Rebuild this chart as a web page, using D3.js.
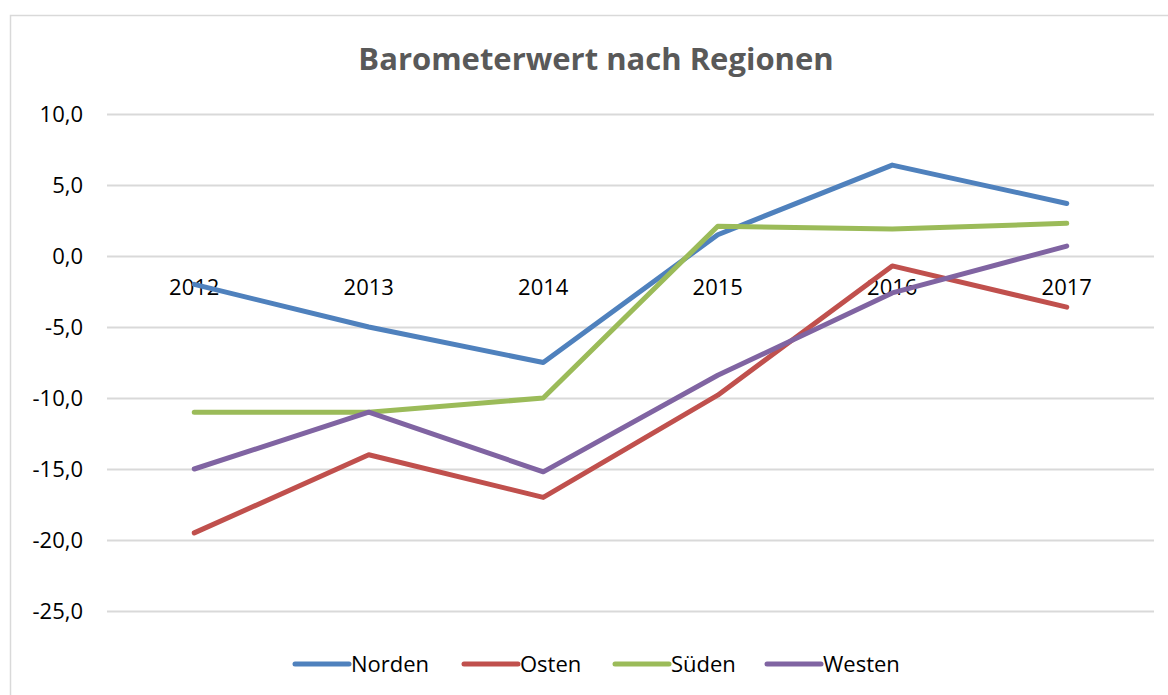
<!DOCTYPE html>
<html>
<head>
<meta charset="utf-8">
<script src="https://cdn.jsdelivr.net/npm/d3@7"></script>
<style>
  body { margin: 0; background: #fff; }
  text { font-family: "Open Sans", sans-serif; }
</style>
</head>
<body>
<div id="chart"></div>
<script>
var years   = ["2012", "2013", "2014", "2015", "2016", "2017"];
var norden  = [-2.0, -5.0, -7.5, 1.5, 6.4, 3.7];
var osten   = [-19.5, -14.0, -17.0, -9.8, -0.7, -3.6];
var sueden  = [-11.0, -11.0, -10.0, 2.1, 1.9, 2.3];
var westen  = [-15.0, -11.0, -15.2, -8.4, -2.6, 0.7];
var yTicks  = [10, 5, 0, -5, -10, -15, -20, -25];
var seriesNames = ["Norden", "Osten", "Süden", "Westen"];
var colors  = ["#4F81BD", "#C0504D", "#9BBB59", "#8064A2"];

var series = [norden, osten, sueden, westen].map(function(v, i) {
  return {name: seriesNames[i], color: colors[i], values: v};
});

var width = 1168, height = 695;
var margin = {top: 114, right: 14, bottom: 84, left: 107};

var svg = d3.select("#chart").append("svg")
  .attr("width", width)
  .attr("height", height);

// chart border
svg.append("rect")
  .attr("x", 10.5).attr("y", 15.5)
  .attr("width", width + 10).attr("height", height + 10)
  .attr("fill", "none")
  .attr("stroke", "#d9d9d9")
  .attr("stroke-width", 1.5);

svg.append("text")
  .attr("x", 596).attr("y", 70)
  .attr("text-anchor", "middle")
  .attr("font-size", 31)
  .attr("font-weight", "bold")
  .attr("fill", "#595959")
  .text("Barometerwert nach Regionen");

var x = d3.scaleBand()
  .domain(years)
  .range([margin.left, width - margin.right]);

var y = d3.scaleLinear()
  .domain([-25, 10])
  .range([height - margin.bottom, margin.top]);

// gridlines + y labels
var yAxis = d3.axisLeft(y)
  .tickValues(yTicks)
  .tickSize(-(width - margin.right - margin.left))
  .tickPadding(24)
  .tickFormat(function(d) { return d.toFixed(1).replace(".", ","); });

var gy = svg.append("g")
  .attr("transform", "translate(" + margin.left + ",0)")
  .call(yAxis);
gy.select(".domain").remove();
gy.selectAll(".tick line").attr("stroke", "#d9d9d9").attr("stroke-width", 2);
gy.selectAll(".tick text")
  .attr("font-size", 22)
  .attr("fill", "#000")
  .style("font-family", "'Open Sans', sans-serif");

var line = d3.line()
  .x(function(d, i) { return x(years[i]) + x.bandwidth() / 2; })
  .y(function(d) { return y(d); });

// category labels sit below the zero line
var gx = svg.append("g")
  .attr("transform", "translate(0," + y(0) + ")")
  .call(d3.axisBottom(x).tickSize(0).tickPadding(23));
gx.select(".domain").remove();
gx.selectAll(".tick text")
  .attr("font-size", 22)
  .attr("fill", "#000")
  .style("font-family", "'Open Sans', sans-serif");

svg.append("g").selectAll("path")
  .data(series)
  .enter().append("path")
  .attr("d", function(d) { return line(d.values); })
  .attr("fill", "none")
  .attr("stroke", function(d) { return d.color; })
  .attr("stroke-width", 5)
  .attr("stroke-linejoin", "round")
  .attr("stroke-linecap", "round");

// legend
var legendX = [293, 462, 613, 765];
var leg = svg.append("g").selectAll("g")
  .data(series)
  .enter().append("g")
  .attr("transform", function(d, i) { return "translate(" + legendX[i] + ",664)"; });

leg.append("line")
  .attr("x1", 2).attr("x2", 56)
  .attr("stroke", function(d) { return d.color; })
  .attr("stroke-width", 5)
  .attr("stroke-linecap", "round");

leg.append("text")
  .attr("x", 58)
  .attr("dy", "0.35em")
  .attr("font-size", 22)
  .text(function(d) { return d.name; });
</script>
</body>
</html>
